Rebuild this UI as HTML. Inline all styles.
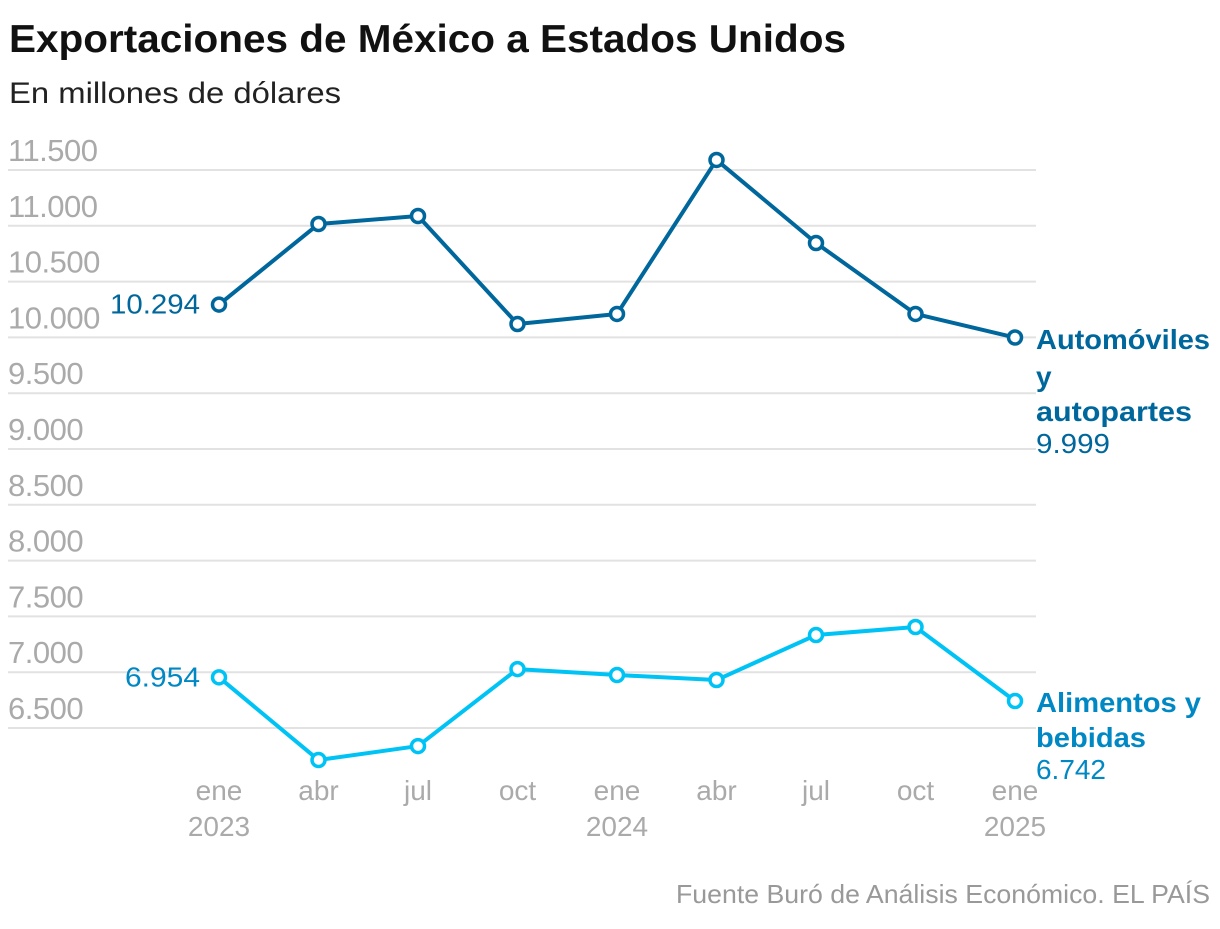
<!DOCTYPE html>
<html><head><meta charset="utf-8"><style>
body{margin:0;background:#fff;width:1220px;height:924px;overflow:hidden;font-family:"Liberation Sans",sans-serif}
</style></head><body>
<svg width="1220" height="924" id="c">
<text x="9" y="52" font-size="39" font-weight="bold" fill="#111" textLength="837" lengthAdjust="spacingAndGlyphs">Exportaciones de México a Estados Unidos</text>
<text x="9" y="103" font-size="30" fill="#222" textLength="332" lengthAdjust="spacingAndGlyphs">En millones de dólares</text>
<text x="1210" y="903" font-size="26" fill="#999" text-anchor="end" textLength="534" lengthAdjust="spacingAndGlyphs">Fuente Buró de Análisis Económico. EL PAÍS</text>
<g id="grid"></g><g id="xa"></g><g id="ser"></g>
</svg>
<script>
const yTicks=[11500,11000,10500,10000,9500,9000,8500,8000,7500,7000,6500];
const yTickLabels=["11.500","11.000","10.500","10.000","9.500","9.000","8.500","8.000","7.500","7.000","6.500"];
const months=["ene","abr","jul","oct","ene","abr","jul","oct","ene"];
const years=["2023","","","","2024","","","","2025"];
const autos=[10294,11016,11088,10120,10210,11590,10846,10210,9999];
const food=[6954,6213,6338,7028,6975,6930,7333,7405,6742];
const NS="http://www.w3.org/2000/svg";
const y=v=>170+(11500-v)/500*55.8;
const x=i=>219+i*99.5;
function mk(t,a,p){const e=document.createElementNS(NS,t);for(const k in a)e.setAttribute(k,a[k]);p.appendChild(e);return e;}
const g=document.getElementById('grid'),xa=document.getElementById('xa'),s=document.getElementById('ser');
yTicks.forEach((v,i)=>{
 const l=mk('line',{x1:8,x2:1036,y1:y(v),y2:y(v),stroke:'#e2e2e2','stroke-width':2},g);
 
 
 const t=mk('text',{x:8,y:y(v)-9,'font-size':31,fill:'#aaa','letter-spacing':'-0.5'},g);t.textContent=yTickLabels[i];
 
 
});
months.forEach((m,i)=>{
 const t=mk('text',{x:x(i),y:800,'font-size':28,fill:'#aaa','text-anchor':'middle'},xa);t.textContent=m;
 
 
 if(years[i]){const u=mk('text',{x:x(i),y:836,'font-size':28,fill:'#aaa','text-anchor':'middle'},xa);u.textContent=years[i];
 
 }
});
function series(d,col,name){
 const p=mk('polyline',{points:d.map((v,i)=>x(i)+','+y(v)).join(' '),fill:'none',stroke:col,'stroke-width':4,'stroke-linejoin':'round'},s);
 
 
 d.forEach((v,i)=>{const c=mk('circle',{cx:x(i),cy:y(v),r:6.5,fill:'#fff',stroke:col,'stroke-width':3.5},s);
 
 });
}
series(autos,'#00679c','autos');
series(food,'#00c3f5','food');
function txt(tx,xx,yy,col,sz,bold,anchor,name,len){const a={x:xx,y:yy,'font-size':sz,fill:col,'font-weight':bold?'bold':'normal','text-anchor':anchor||'start'};if(len){a.textLength=len;a.lengthAdjust='spacingAndGlyphs';}const t=mk('text',a,s);t.textContent=tx;
 
 }
const fmt=v=>v.toLocaleString('de-DE');
txt(fmt(autos[0]),200,y(autos[0])+9,'#00679c',28,false,'end','autos-start-label',90);
txt(fmt(food[0]),200,y(food[0])+9,'#0088c4',28,false,'end','food-start-label',75);
txt('Automóviles',1036,349,'#00679c',28,true,'start','autos-name-label',174);
txt('y',1036,386,'#00679c',28,true,'start','autos-name-label');
txt('autopartes',1036,421,'#00679c',28,true,'start','autos-name-label',156);
txt(fmt(autos[8]),1036,453,'#00679c',28,false,'start','autos-end-label',74);
txt('Alimentos y',1036,712,'#0088c4',28,true,'start','food-name-label',165);
txt('bebidas',1036,747,'#0088c4',28,true,'start','food-name-label',110);
txt(fmt(food[8]),1036,779,'#0088c4',28,false,'start','food-end-label',70);
</script>
</body></html>
